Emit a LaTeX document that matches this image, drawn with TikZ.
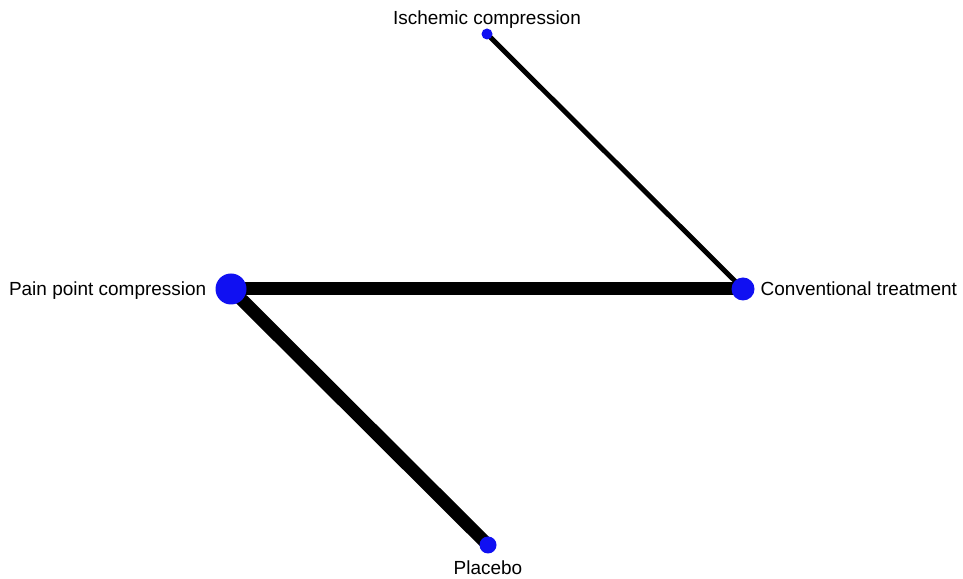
\documentclass[tikz,border=0pt]{standalone}
\usepackage{fontspec}
\setmainfont{Liberation Sans}
\usepackage{tikz}
\usetikzlibrary{positioning, backgrounds}
\definecolor{dotblue}{HTML}{1010F2}

\begin{document}
\begin{tikzpicture}[
  nd/.style={circle, fill=dotblue, draw=none, inner sep=0pt},
  lbl/.style={inner sep=0pt, font=\fontsize{10.8}{13}\selectfont},
  wide/.style={line width=7.4pt, draw=black},
  thin/.style={line width=2.8pt, draw=black}
]
\useasboundingbox (0,0) rectangle (19.26,11.58);

\node[nd, minimum size=0.22cm] (isch) at (9.74,10.90) {};
\node[nd, minimum size=0.46cm] (conv) at (14.86,5.80) {};
\node[nd, minimum size=0.62cm] (pain) at (4.62,5.80) {};
\node[nd, minimum size=0.34cm] (plac) at (9.76,0.68) {};

\node[lbl, anchor=base] (ischlbl) at ([yshift=0.07cm]isch.north) {Ischemic compression};
\node[lbl, anchor=base west] (convlbl) at ([xshift=0.11cm, yshift=-0.14cm]conv.east) {Conventional treatment};
\node[lbl, anchor=base east] (painlbl) at ([xshift=-0.17cm, yshift=-0.14cm]pain.west) {Pain point compression};
\node[lbl, anchor=north, below=0.14cm of plac] (placlbl) {Placebo};

\begin{scope}[on background layer]
  \draw[thin] (isch.center) -- (conv.center);
  \draw[wide] (pain.center) -- (conv.center);
  \draw[wide] (pain.center) -- (plac.center);
\end{scope}

\end{tikzpicture}
\end{document}
